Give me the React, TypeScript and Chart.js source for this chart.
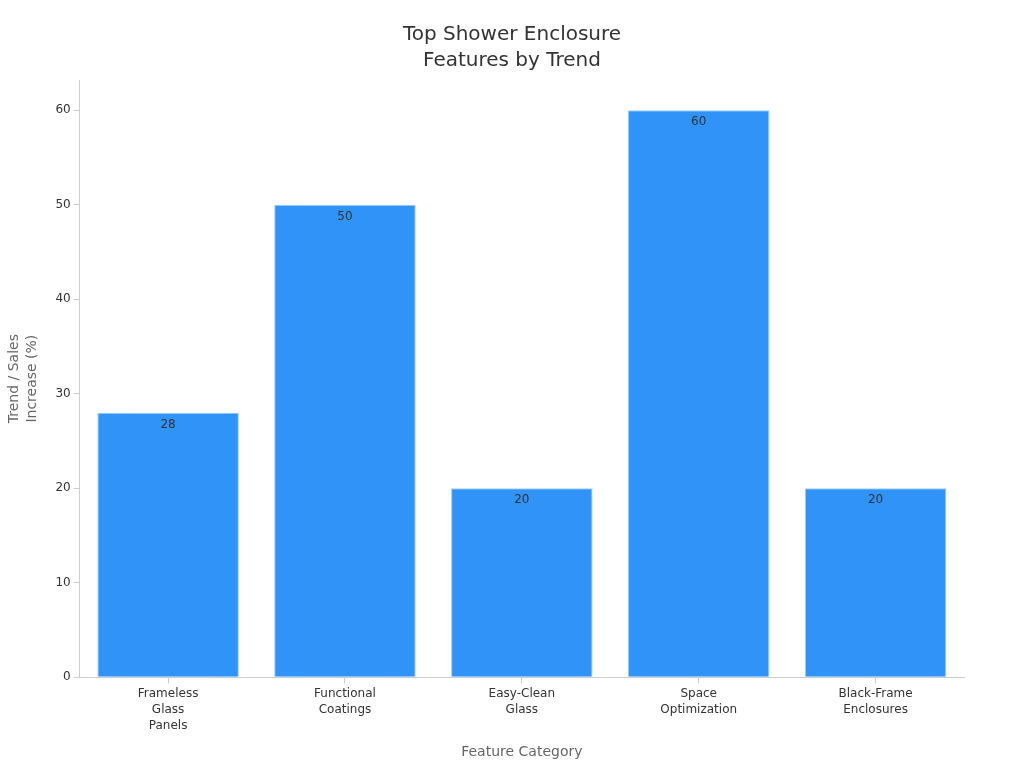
import { useEffect, useRef } from 'react';
import { Chart, registerables, Plugin } from 'chart.js';

Chart.register(...registerables);

const categories: string[][] = [
  ['Frameless', 'Glass', 'Panels'],
  ['Functional', 'Coatings'],
  ['Easy-Clean', 'Glass'],
  ['Space', 'Optimization'],
  ['Black-Frame', 'Enclosures'],
];
const trendValues = [28, 50, 20, 60, 20];
const yTicks = [0, 10, 20, 30, 40, 50, 60];
const titleLines = ['Top Shower Enclosure', 'Features by Trend'];
const yTitleLines = ['Trend / Sales', 'Increase (%)'];
const xTitle = 'Feature Category';

const FONT = "'DejaVu Sans', sans-serif";

// value just inside the top of each bar
const valueLabels: Plugin<'bar'> = {
  id: 'valueLabels',
  afterDatasetsDraw(chart) {
    const ctx = chart.ctx;
    const meta = chart.getDatasetMeta(0);
    ctx.save();
    ctx.font = `12px ${FONT}`;
    ctx.fillStyle = '#333333';
    ctx.textAlign = 'center';
    ctx.textBaseline = 'top';
    meta.data.forEach((bar, i) => {
      ctx.fillText(String(trendValues[i]), bar.x, bar.y + 6);
    });
    ctx.restore();
  },
};

// title centred on the whole canvas, not on the padded box
const centredTitle: Plugin<'bar'> = {
  id: 'centredTitle',
  afterDraw(chart) {
    const ctx = chart.ctx;
    ctx.save();
    ctx.font = `20px ${FONT}`;
    ctx.fillStyle = '#333333';
    ctx.textAlign = 'center';
    ctx.textBaseline = 'middle';
    titleLines.forEach((line, i) => {
      ctx.fillText(line, chart.width / 2, 35 + i * 26);
    });
    ctx.restore();
  },
};

export default function App() {
  const canvasRef = useRef<HTMLCanvasElement>(null);
  const chartRef = useRef<Chart | null>(null);

  useEffect(() => {
    document.body.style.margin = '0';
    if (!canvasRef.current) return;
    if (chartRef.current) chartRef.current.destroy();

    chartRef.current = new Chart(canvasRef.current, {
      type: 'bar',
      data: {
        labels: categories,
        datasets: [{
          data: trendValues,
          backgroundColor: '#2f93f8',
          borderColor: '#9fcdfb',
          borderWidth: 1,
          barPercentage: 0.8,
          categoryPercentage: 1,
        }],
      },
      options: {
        animation: false,
        responsive: true,
        maintainAspectRatio: false,
        layout: { padding: { left: 0, right: 60, top: 80, bottom: 3 } },
        plugins: {
          legend: { display: false },
          tooltip: { enabled: false },
          title: { display: false },
        },
        scales: {
          x: {
            grid: { offset: false, drawOnChartArea: false, drawTicks: true, tickLength: 6, color: '#cccccc' },
            border: { color: '#cccccc' },
            ticks: {
              color: '#333333',
              font: { family: FONT, size: 12, lineHeight: 1.33 },
              maxRotation: 0,
              padding: 3,
            },
            title: {
              display: true,
              text: xTitle,
              color: '#666666',
              font: { family: FONT, size: 14 },
              padding: { top: 7 },
            },
          },
          y: {
            min: 0,
            max: 63.2,
            afterBuildTicks: (scale) => {
              scale.ticks = yTicks.map((v) => ({ value: v }));
            },
            grid: { drawOnChartArea: false, drawTicks: true, tickLength: 6, color: '#cccccc' },
            border: { color: '#cccccc' },
            ticks: {
              color: '#333333',
              font: { family: FONT, size: 12 },
              padding: 3,
            },
            title: {
              display: true,
              text: yTitleLines,
              color: '#666666',
              font: { family: FONT, size: 14, lineHeight: 1.3 },
              padding: { top: 5, bottom: 11 },
            },
          },
        },
      },
      plugins: [valueLabels, centredTitle],
    });

    return () => {
      chartRef.current?.destroy();
      chartRef.current = null;
    };
  }, []);

  return (
    <div style={{ width: 1024, height: 768, position: 'relative' }}>
      <canvas ref={canvasRef} />
    </div>
  );
}
